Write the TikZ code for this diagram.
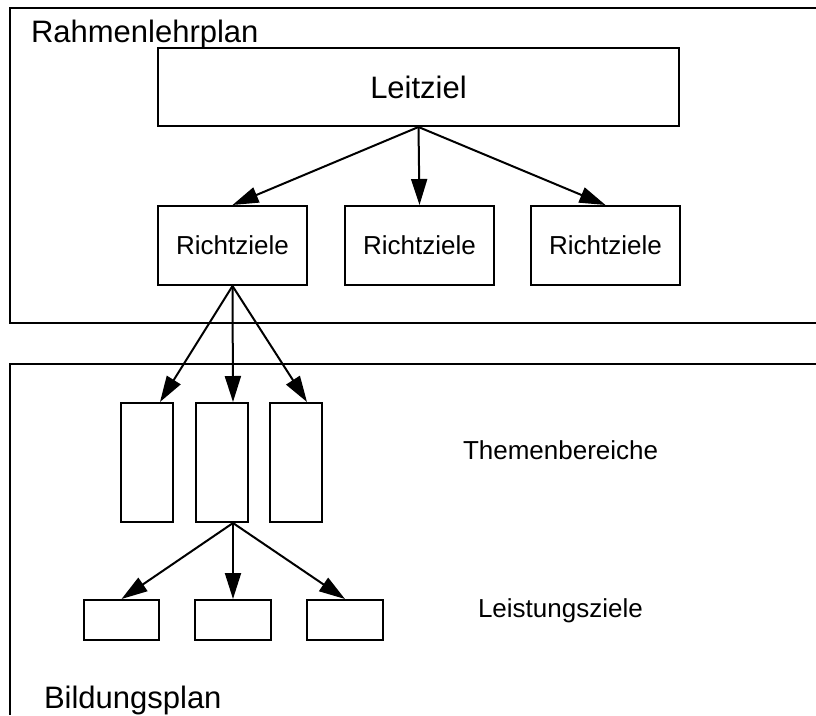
\documentclass[tikz,border=0pt]{standalone}
\usepackage{fontspec}
\setmainfont{Liberation Sans}
\usetikzlibrary{arrows.meta}
\begin{document}
\begin{tikzpicture}[x=1pt,y=-1pt,
  line width=2pt,
  big/.style={font=\fontsize{31}{36}\selectfont},
  small/.style={font=\fontsize{26}{30}\selectfont},
  box/.style={draw, inner sep=0pt, line width=2pt},
  lbl/.style={inner sep=0pt, anchor=base west},
  arr/.style={-{Triangle[length=26pt,width=16pt]}, line width=2pt}]
\useasboundingbox (0,0) rectangle (816,715);
% outer frames
\draw (816,8) -- (10,8) -- (10,323) -- (816,323);
\draw (816,364) -- (10,364) -- (10,715);
% labels
\node[lbl,big] (rahmen) at (30,42) {Rahmenlehrplan};
\node[lbl,big] (bildung) at (43,708) {Bildungsplan};
\node[lbl,small] (themen) at (462,459) {Themenbereiche};
\node[lbl,small] (leist) at (477,617) {Leistungsziele};
% boxes
\node[box,big,minimum width=521pt,minimum height=78pt] (leit) at (418.5,87) {Leitziel};
\node[box,small,minimum width=149pt,minimum height=79pt] (r1) at (232.5,245.5) {Richtziele};
\node[box,small,minimum width=149pt,minimum height=79pt] (r2) at (419.5,245.5) {Richtziele};
\node[box,small,minimum width=149pt,minimum height=79pt] (r3) at (605.5,245.5) {Richtziele};
\node[box,minimum width=52pt,minimum height=119pt] (t1) at (147,462.5) {};
\node[box,minimum width=52pt,minimum height=119pt] (t2) at (222,462.5) {};
\node[box,minimum width=52pt,minimum height=119pt] (t3) at (296,462.5) {};
\node[box,minimum width=75pt,minimum height=40pt] (l1) at (121.5,620) {};
\node[box,minimum width=76pt,minimum height=40pt] (l2) at (233,620) {};
\node[box,minimum width=76pt,minimum height=40pt] (l3) at (345,620) {};
% arrows
\draw[arr] (leit.south) -- (r1.north);
\draw[arr] (leit.south) -- (r2.north);
\draw[arr] (leit.south) -- (r3.north);
\draw[arr] (r1.south) -- ([xshift=13pt]t1.north);
\draw[arr] (r1.south) -- ([xshift=11pt]t2.north);
\draw[arr] (r1.south) -- ([xshift=11pt]t3.north);
\draw[arr] ([xshift=11pt]t2.south) -- (l1.north);
\draw[arr] ([xshift=11pt]t2.south) -- (l2.north);
\draw[arr] ([xshift=11pt]t2.south) -- (l3.north);
\end{tikzpicture}
\end{document}
